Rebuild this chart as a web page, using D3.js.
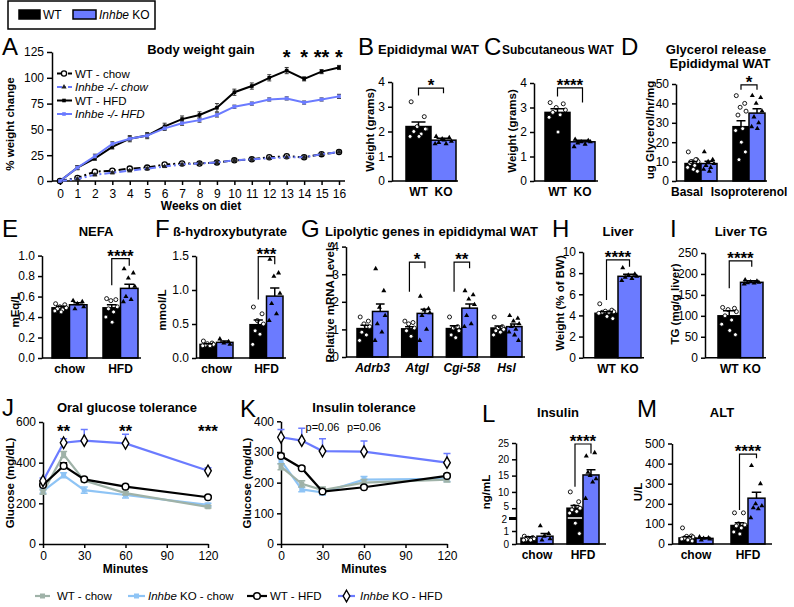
<!DOCTYPE html>
<html><head><meta charset="utf-8">
<script src="https://cdn.jsdelivr.net/npm/d3@7/dist/d3.min.js"></script>
<style>
html,body{margin:0;padding:0;background:#fff;}
svg text{font-family:"Liberation Sans",Arial,Helvetica,sans-serif;}
</style></head>
<body><svg id="fig" width="794" height="607"></svg>
<script>
// ================= DATA =================
// Panel A – body weight gain
const weeks = [0,1,2,3,4,5,6,7,8,9,10,11,12,13,14,15,16];
const aYTicks = [0,25,50,75,100,125];
const wtChowA = [0,3,9,10,12,13,16,17,17,18,20,21,23,24,23,26,28];
const koChowA = [0,2,6,8,10,12,14,16,17,18,20,21,22,23,23,26,28];
const wtHfdA  = [0,13,22,33,41,44,53,60,64,71,86,92,100,107,99,106,110];
const koHfdA  = [0,13,24,36,41,44,51,56,59,64,72,75,79,80,76,79,82];
const wtChowAErr = [0,1,1,1,1,1,1,1,1,1,1,1,1,1,1,1,1];
const koChowAErr = [0,1,1,1,1,1,1,1,1,1,1,1,1,1,1,1,1];
const wtHfdAErr  = [0,2,2,2,3,3,3,3,3,4,3,3,3,3,2,2,2];
const koHfdAErr  = [0,2,2,2,2,2,2,2,2,2,1.5,1.5,1.5,1.5,1.5,1.5,2];
const aStarWeeks = [13,14,15,16];
const aStarLabels = ["*","*","**","*"];

// Panel B – epididymal WAT
const bBarLabels = ["WT","KO"];
const bWt=[2.2], bKo=[1.65], bWtErr=[0.18], bKoErr=[0.08];
const bWtDots=[[3.2,2.6,2.2,2.1,2.0,1.9,1.8,1.8,2.1]];
const bKoDots=[[1.8,1.75,1.7,1.6,1.55,1.5,1.5,1.65]];
const bTicks=[0,1,2,3,4];
// Panel C – subcutaneous WAT
const cWt=[2.8], cKo=[1.6], cWtErr=[0.15], cKoErr=[0.06];
const cWtDots=[[3.2,3.15,3.0,2.9,2.8,2.7,2.6,2.0]];
const cKoDots=[[1.7,1.65,1.6,1.6,1.55,1.5,1.4]];
// Panel D – glycerol release
const dGroups=["Basal","Isoproterenol"];
const dWt=[9,28], dKo=[9,35], dWtErr=[1,3], dKoErr=[1.2,2.3];
const dWtDots=[[15,11,10,10,9,8,7,6,5,10,11],[44,40,38,36,34,27,26,20,15,11]];
const dKoDots=[[15,11,10,9,8,7,6,5],[44,43,40,36,33,30,28,27]];
const dTicks=[0,10,20,30,40,50];
// Panel E – NEFA
const dietGroups=["chow","HFD"];
const eWt=[0.49,0.49], eKo=[0.52,0.68], eWtErr=[0.015,0.03], eKoErr=[0.02,0.04];
const eWtDots=[[0.53,0.52,0.5,0.49,0.48,0.47,0.46,0.45],[0.58,0.57,0.56,0.5,0.48,0.45,0.4,0.35]];
const eKoDots=[[0.56,0.55,0.53,0.5,0.48],[0.87,0.83,0.78,0.7,0.6,0.57,0.55]];
const eTicks=[0,0.2,0.4,0.6,0.8,1.0];
// Panel F – ß-hydroxybutyrate
const fWt=[0.2,0.49], fKo=[0.23,0.91], fWtErr=[0.01,0.07], fKoErr=[0.02,0.12];
const fWtDots=[[0.25,0.22,0.21,0.2,0.19,0.18,0.18],[0.75,0.65,0.55,0.5,0.4,0.35,0.2]];
const fKoDots=[[0.28,0.24,0.22,0.2],[1.45,1.25,1.2,0.95,0.8,0.65,0.55]];
const fTicks=[0,0.5,1.0,1.5];
// Panel G – lipolytic genes
const gGroups=["Adrb3","Atgl","Cgi-58","Hsl"];
const gWt=[1.03,1.02,1.03,1.05], gKo=[1.65,1.58,1.77,1.1];
const gWtErr=[0.12,0.08,0.1,0.07], gKoErr=[0.27,0.15,0.15,0.1];
const gWtDots=[[1.45,1.3,1.2,1.1,0.9,0.8,0.6],[1.3,1.25,1.2,1.05,0.95,0.75],[1.45,1.1,1.05,0.95,0.8,0.7],[1.45,1.1,1.05,1.0,0.95,0.9,0.8]];
const gKoDots=[[3.2,2.4,1.8,1.5,1.2,0.9,0.6],[2.2,1.75,1.7,1.6,1.5,1.0,0.6],[2.4,2.25,2.1,1.9,1.5,1.2,1.1],[1.5,1.4,1.3,1.2,1.1,1.0,0.9,0.8,0.6]];
const gTicks=[0,1,2,3,4];
// Panel H – liver weight
const hWt=[4.2], hKo=[7.7], hWtErr=[0.15], hKoErr=[0.2];
const hWtDots=[[5.1,4.5,4.4,4.35,4.3,4.3,4.2,3.9,3.7]];
const hKoDots=[[8.5,7.9,7.8,7.7,7.6,7.5,7.3]];
const hTicks=[0,2,4,6,8,10];
// Panel I – liver TG
const iWt=[100], iKo=[180], iWtErr=[12], iKoErr=[4];
const iWtDots=[[120,118,115,110,100,90,80,65,55]];
const iKoDots=[[186,183,181,180,179,178,176]];
const iTicks=[0,50,100,150,200,250];
// Panel J – OGTT
const minutes=[0,15,30,60,120];
const minuteTicks=[0,30,60,90,120];
const ogttWtChow=[255,440,312,250,183], ogttWtChowErr=[10,15,8,8,6];
const ogttKoChow=[260,338,265,241,192], ogttKoChowErr=[10,12,15,15,8];
const ogttWtHfd=[290,384,318,282,230], ogttWtHfdErr=[10,15,6,5,6];
const ogttKoHfd=[310,498,508,495,360], ogttKoHfdErr=[15,20,55,45,15];
const jTicks=[0,200,400,600];
const jStarTimes=[15,60,120], jStarLabels=["**","**","***"];
// Panel K – ITT
const ittWtChow=[252,196,176,200,210], ittWtChowErr=[10,10,10,10,8];
const ittKoChow=[272,178,168,210,212], ittKoChowErr=[10,8,8,10,8];
const ittWtHfd=[287,247,171,185,222], ittWtHfdErr=[8,6,5,5,6];
const ittKoHfd=[348,337,303,301,265], ittKoHfdErr=[25,40,40,35,30];
const kTicks=[0,100,200,300,400];
const kPTimes=[30,60], kPLabels=["p=0.06","p=0.06"];
// Panel L – insulin
const lWt=[0.45,5.0], lKo=[0.6,15.2], lWtErr=[0.1,0.8], lKoErr=[0.2,1.6];
const lWtDots=[[0.6,0.5,0.45,0.4,0.35,0.3,0.3],[10,7,5.5,5,4.5,4,3.5,1.6,0.8]];
const lKoDots=[[1.4,0.8,0.6,0.4,0.3],[21,22,15,14,16,13,8]];
const lTicks=[0,1,2,5,10,15,20,25];
// Panel M – ALT
const mWt=[30,92], mKo=[28,228], mWtErr=[6,14], mKoErr=[3,30];
const mWtDots=[[80,40,38,35,30,28,25,20,15],[155,155,100,95,90,80,60,50]];
const mKoDots=[[35,30,28,25,20],[390,300,200,190,180,175,130]];
const mTicks=[0,100,200,300,400,500];

// ================= DRAWING =================
const BLUE="#6b7bff", GREY="#9fb2a8", LBLUE="#8ec4f5";
const svg=d3.select("#fig");
const jit=[-0.28,0.22,-0.05,0.3,-0.18,0.1,-0.32,0.02,0.26,-0.12,0.16];

function T(x,y,parts,o={}){
  const t=svg.append("text").attr("x",x).attr("y",y)
    .attr("font-size",o.size||12).attr("font-weight",o.bold?"bold":"normal")
    .attr("text-anchor",o.anchor||"start").attr("fill",o.fill||"#000");
  if(o.rotate){t.attr("transform",`rotate(-90,${x},${y})`).attr("dy","0.35em");}
  (typeof parts==="string"?[[parts,false]]:parts).forEach(([s,it])=>t.append("tspan").attr("font-style",it?"italic":"normal").text(s));
  return t;
}
function styleAxis(ax,fs){
  ax.attr("font-family","'Liberation Sans',Arial,sans-serif").attr("font-size",fs||12);
  ax.select(".domain").attr("stroke","#000").attr("stroke-width",1.5);
  ax.selectAll(".tick line").attr("stroke","#000").attr("stroke-width",1.5);
  ax.selectAll(".tick text").attr("fill","#000");
}
function letter(x,y,s){T(x,y,s,{size:24});}

// ---- top legend ----
svg.append("rect").attr("x",8).attr("y",1).attr("width",147).attr("height",28).attr("fill","none").attr("stroke","#000").attr("stroke-width",1.5);
svg.append("rect").attr("x",19).attr("y",10).attr("width",21).attr("height",9).attr("fill","#000").attr("stroke","#000").attr("stroke-width",1.5);
T(43,19,"WT",{size:12});
svg.append("rect").attr("x",73).attr("y",10).attr("width",23).attr("height",9).attr("fill",BLUE).attr("stroke","#000").attr("stroke-width",1.5);
T(99,19,[["Inhbe",true],[" KO",false]],{size:12});

// ---- generic marker ----
function marker(g,type,x,y,color){
  if(type==="circle") g.append("circle").attr("cx",x).attr("cy",y).attr("r",2.6).attr("fill","#fff").attr("stroke",color).attr("stroke-width",1.3);
  else if(type==="bigcircle") g.append("circle").attr("cx",x).attr("cy",y).attr("r",3.3).attr("fill","#fff").attr("stroke","#000").attr("stroke-width",1.5);
  else if(type==="diamond") g.append("path").attr("d",d3.symbol().type(d3.symbolDiamond).size(38)()).attr("transform",`translate(${x},${y})`).attr("fill","#fff").attr("stroke","#000").attr("stroke-width",1.4);
  else if(type==="tri") g.append("path").attr("d",d3.symbol().type(d3.symbolTriangle).size(12)()).attr("transform",`translate(${x},${y})`).attr("fill",color==="#000"?"#000":"#222");
  else if(type==="sq") g.append("rect").attr("x",x-1.8).attr("y",y-1.8).attr("width",3.6).attr("height",3.6).attr("fill",color);
  else if(type==="bigsq") g.append("rect").attr("x",x-2.5).attr("y",y-2.5).attr("width",5).attr("height",5).attr("fill",color);
}

// ================= PANEL A =================
(function(){
  const g=svg.append("g");
  const x=d3.scaleLinear().domain([0,16]).range([60,339]);
  const y=d3.scaleLinear().domain([0,125]).range([181,52]);
  const ay=g.append("g").attr("transform","translate(52,0)").call(d3.axisLeft(y).tickValues(aYTicks).tickSize(5).tickSizeOuter(0).tickPadding(3));
  styleAxis(ay);
  const ax=g.append("g").attr("transform","translate(0,181)").call(d3.axisBottom(x).tickValues(weeks).tickSize(4).tickSizeOuter(0).tickPadding(4));
  styleAxis(ax); ax.select(".domain").remove();
  g.append("line").attr("x1",52).attr("x2",345).attr("y1",181).attr("y2",181).attr("stroke","#000").attr("stroke-width",1.5);
  const series=[
    {v:wtChowA,e:wtChowAErr,c:"#000",dash:"7,3,2,3",m:"circle"},
    {v:koChowA,e:koChowAErr,c:BLUE,dash:"7,3,2,3",m:"tri"},
    {v:wtHfdA,e:wtHfdAErr,c:"#000",dash:null,m:"sq"},
    {v:koHfdA,e:koHfdAErr,c:BLUE,dash:null,m:"sq"}
  ];
  series.forEach(s=>{
    s.v.forEach((v,i)=>{
      if(s.e[i]>0){
        const cx=x(weeks[i]);
        g.append("path").attr("d",`M${cx},${y(v-s.e[i])}V${y(v+s.e[i])}M${cx-2},${y(v+s.e[i])}H${cx+2}M${cx-2},${y(v-s.e[i])}H${cx+2}`).attr("stroke","#333").attr("stroke-width",1).attr("fill","none");
      }
    });
    const line=d3.line().x((d,i)=>x(weeks[i])).y(d=>y(d));
    g.append("path").attr("d",line(s.v)).attr("fill","none").attr("stroke",s.c).attr("stroke-width",2).attr("stroke-dasharray",s.dash);
    s.v.forEach((v,i)=>marker(g,s.m,x(weeks[i]),y(v),s.c));
  });
  aStarWeeks.forEach((w,i)=>T(x(w),64,aStarLabels[i],{size:20,bold:true,anchor:"middle"}));
  // legend
  const leg=[["WT - chow",false,"#000","7,3,2,3","circle"],["Inhbe -/- chow",true,BLUE,"7,3,2,3","tri"],["WT - HFD",false,"#000",null,"sq"],["Inhbe -/- HFD",true,BLUE,null,"sq"]];
  const ly=[73.5,87,100.5,114];
  leg.forEach((l,i)=>{
    g.append("line").attr("x1",57).attr("x2",72).attr("y1",ly[i]).attr("y2",ly[i]).attr("stroke",l[2]).attr("stroke-width",2).attr("stroke-dasharray",l[3]?"5,2,2,2":null);
    marker(g,l[4],64,ly[i],l[2]);
    T(75,ly[i]+4,[[l[0],l[1]]],{size:11.5});
  });
  letter(2,55,"A");
  T(201,54,"Body weight gain",{size:13,bold:true,anchor:"middle"});
  T(201,210,"Weeks on diet",{size:12,bold:true,anchor:"middle"});
  T(10,124,"% weight change",{size:11.5,bold:true,anchor:"middle",rotate:true});
})();

// ================= BAR PANELS =================
function barPanel(p){
  const g=svg.append("g");
  const y=p.y;
  const x=d3.scaleBand().domain(d3.range(p.groups.length)).range(p.xr).paddingInner(p.pad||0).paddingOuter(0);
  const sub=d3.scaleBand().domain([0,1]).range([0,x.bandwidth()]);
  const bw=sub.bandwidth();
  const y0=y(0);
  const series=[{m:p.wt,e:p.wtErr,d:p.wtDots,fill:"#000"},{m:p.ko,e:p.koErr,d:p.koDots,fill:BLUE}];
  p.groups.forEach((gl,i)=>{
    series.forEach((s,j)=>{
      const bx=x(i)+sub(j), cx=bx+bw/2, m=s.m[i], e=s.e[i];
      g.append("rect").attr("x",bx).attr("y",y(m)).attr("width",bw).attr("height",y0-y(m)).attr("fill",s.fill).attr("stroke","#000").attr("stroke-width",1.5);
      if(p.breakAt!==undefined && m>p.breakAt && j===0){
        g.append("line").attr("x1",bx+0.8).attr("x2",bx+bw-0.8).attr("y1",y(p.breakAt)).attr("y2",y(p.breakAt)).attr("stroke","#fff").attr("stroke-width",1.5);
      }
      s.d[i].forEach((v,k)=>{
        const dx=cx+jit[k%jit.length]*bw*1.05;
        if(j===0) g.append("circle").attr("cx",dx).attr("cy",y(v)).attr("r",2).attr("fill","#fff").attr("stroke","#000").attr("stroke-width",0.9);
        else g.append("path").attr("d",d3.symbol().type(d3.symbolTriangle).size(11)()).attr("transform",`translate(${dx},${y(v)})`).attr("fill","#000");
      });
      const cw=bw*0.28;
      g.append("path").attr("d",`M${cx},${y(m)}V${y(m+e)}M${cx-cw},${y(m+e)}H${cx+cw}`).attr("stroke","#000").attr("stroke-width",1.5).attr("fill","none");
      if(p.barLabels) T(cx,y0+15,p.barLabels[j],{size:12,bold:true,anchor:"middle"});
    });
    if(!p.barLabels){
      const gx=x(i)+x.bandwidth()/2+(p.labelShift?p.labelShift[i]:0);
      T(gx,y0+15,[[gl,!!p.italic]],{size:12,bold:true,anchor:"middle"});
    }
  });
  g.append("line").attr("x1",p.axisX).attr("x2",p.axisEnd).attr("y1",y0).attr("y2",y0).attr("stroke","#000").attr("stroke-width",1.5);
  const ax=g.append("g").attr("transform",`translate(${p.axisX},0)`).call(d3.axisLeft(y).tickValues(p.ticks).tickFormat(p.fmt).tickSize(4).tickSizeOuter(0).tickPadding(3));
  styleAxis(ax,p.tickSize);
  if(p.breakAt!==undefined){
    ax.selectAll(".tick").filter(d=>d===p.breakAt).select("line").attr("stroke-width",3).attr("x2",-7);
    ax.selectAll(".tick").filter(d=>d===p.breakAt).select("text").attr("dy","0.42em").attr("x",-9);
    ax.selectAll(".tick").filter(d=>d===5).select("text").attr("dy","0.12em");
  }
  (p.brackets||[]).forEach(b=>{
    const x1=x(b.g)+sub(0)+bw/2, x2=x(b.g)+sub(1)+bw/2;
    g.append("path").attr("d",`M${x1},${y(b.l)}V${y(b.top)}H${x2}V${y(b.r)}`).attr("fill","none").attr("stroke","#000").attr("stroke-width",1.2);
    T((x1+x2)/2,y(b.top)+3,b.label,{size:17,bold:true,anchor:"middle"});
  });
}
const fmtD=d3.format("d"), fmt1=d3.format(".1f");

// B
barPanel({axisX:392,axisEnd:458,y:d3.scaleLinear().domain([0,4]).range([181,82]),ticks:bTicks,fmt:fmtD,
  groups:[""],xr:[406,456],barLabels:bBarLabels,wt:bWt,ko:bKo,wtErr:bWtErr,koErr:bKoErr,wtDots:bWtDots,koDots:bKoDots,
  brackets:[{g:0,top:3.75,l:3.45,r:3.55,label:"*"}]});
letter(358,55,"B"); T(378,54,"Epididymal WAT",{size:13,bold:true});
T(370,130,"Weight (grams)",{size:11.5,bold:true,anchor:"middle",rotate:true});
// C
barPanel({axisX:534,axisEnd:598,y:d3.scaleLinear().domain([0,4]).range([181,83]),ticks:bTicks,fmt:fmtD,
  groups:[""],xr:[545,595],barLabels:bBarLabels,wt:cWt,ko:cKo,wtErr:cWtErr,koErr:cKoErr,wtDots:cWtDots,koDots:cKoDots,
  brackets:[{g:0,top:3.8,l:3.45,r:3.2,label:"****"}]});
letter(484,55,"C"); T(502,54,"Subcutaneous WAT",{size:12,bold:true});
T(512,131,"Weight (grams)",{size:11.5,bold:true,anchor:"middle",rotate:true});
// D
barPanel({axisX:676,axisEnd:767,y:d3.scaleLinear().domain([0,50]).range([181,84]),ticks:dTicks,fmt:fmtD,
  groups:dGroups,xr:[685,765],pad:0.333,labelShift:[-14,0],wt:dWt,ko:dKo,wtErr:dWtErr,koErr:dKoErr,wtDots:dWtDots,koDots:dKoDots,
  brackets:[{g:1,top:49.5,l:47,r:47,label:"*"}]});
letter(621,55,"D"); T(716,54,"Glycerol release",{size:13,bold:true,anchor:"middle"});
T(720,68,"Epididymal WAT",{size:13,bold:true,anchor:"middle"});
T(650,130,"ug Glycerol/hr/mg",{size:11.5,bold:true,anchor:"middle",rotate:true});
// E
barPanel({axisX:42,axisEnd:141,y:d3.scaleLinear().domain([0,1]).range([358,255.6]),ticks:eTicks,fmt:fmt1,
  groups:dietGroups,xr:[52,138],pad:0.314,wt:eWt,ko:eKo,wtErr:eWtErr,koErr:eKoErr,wtDots:eWtDots,koDots:eKoDots,
  brackets:[{g:1,top:0.97,l:0.71,r:0.9,label:"****"}]});
letter(2,237,"E"); T(96,236,"NEFA",{size:13,bold:true,anchor:"middle"});
T(15,310,"mEq/L",{size:11.5,bold:true,anchor:"middle",rotate:true});
// F
barPanel({axisX:196,axisEnd:286,y:d3.scaleLinear().domain([0,1.5]).range([358,256]),ticks:fTicks,fmt:fmt1,
  groups:dietGroups,xr:[200,283],pad:0.34,wt:fWt,ko:fKo,wtErr:fWtErr,koErr:fKoErr,wtDots:fWtDots,koDots:fKoDots,
  brackets:[{g:1,top:1.49,l:0.86,r:1.38,label:"***"}]});
letter(155,237,"F"); T(230,236,"ß-hydroxybutyrate",{size:13,bold:true,anchor:"middle"});
T(162,310,"mmol/L",{size:11.5,bold:true,anchor:"middle",rotate:true});
// G
barPanel({axisX:346,axisEnd:525,y:d3.scaleLinear().domain([0,4]).range([357,246.6]),ticks:gTicks,fmt:fmtD,
  groups:gGroups,italic:true,xr:[357,522],pad:0.306,wt:gWt,ko:gKo,wtErr:gWtErr,koErr:gKoErr,wtDots:gWtDots,koDots:gKoDots,
  brackets:[{g:1,top:3.44,l:2.36,r:3.22,label:"*"},{g:2,top:3.44,l:2.36,r:3.22,label:"**"}]});
letter(301,237,"G"); T(325,236,"Lipolytic genes in epididymal WAT",{size:13,bold:true});
T(330,302,"Relative mRNA Levels",{size:11.5,bold:true,anchor:"middle",rotate:true});
// H
barPanel({axisX:583,axisEnd:644,y:d3.scaleLinear().domain([0,10]).range([357.7,252]),ticks:hTicks,fmt:fmtD,
  groups:[""],xr:[595,641],barLabels:bBarLabels,wt:hWt,ko:hKo,wtErr:hWtErr,koErr:hKoErr,wtDots:hWtDots,koDots:hKoDots,
  brackets:[{g:0,top:9.25,l:5.45,r:8.6,label:"****"}]});
letter(552,237,"H"); T(618,236,"Liver",{size:13,bold:true,anchor:"middle"});
T(560,303,"Weight (% of BW)",{size:11.5,bold:true,anchor:"middle",rotate:true});
// I
barPanel({axisX:705,axisEnd:766,y:d3.scaleLinear().domain([0,250]).range([357.7,253]),ticks:iTicks,fmt:fmtD,
  groups:[""],xr:[718,763],barLabels:bBarLabels,wt:iWt,ko:iKo,wtErr:iWtErr,koErr:iKoErr,wtDots:iWtDots,koDots:iKoDots,
  brackets:[{g:0,top:231,l:166,r:217,label:"****"}]});
letter(670,237,"I"); T(741,236,"Liver TG",{size:13,bold:true,anchor:"middle"});
T(675,304,"TG (mg/g liver)",{size:11.5,bold:true,anchor:"middle",rotate:true});
// L
barPanel({axisX:516,axisEnd:606,y:d3.scaleLinear().domain([0,2,25]).range([544,518,443]),ticks:lTicks,fmt:fmtD,breakAt:2,tickSize:10,
  groups:dietGroups,xr:[521,599],pad:0.304,wt:lWt,ko:lKo,wtErr:lWtErr,koErr:lKoErr,wtDots:lWtDots,koDots:lKoDots,
  brackets:[{g:1,top:24.7,l:11.6,r:21.8,label:"****"}]});
letter(482,422,"L"); T(558,417,"Insulin",{size:13,bold:true,anchor:"middle"});
T(486,492,"ng/mL",{size:11.5,bold:true,anchor:"middle",rotate:true});
// M
barPanel({axisX:672,axisEnd:772,y:d3.scaleLinear().domain([0,500]).range([544,443.5]),ticks:mTicks,fmt:fmtD,
  groups:dietGroups,xr:[679,765],pad:0.346,wt:mWt,ko:mKo,wtErr:mWtErr,koErr:mKoErr,wtDots:mWtDots,koDots:mKoDots,
  brackets:[{g:1,top:447,l:169,r:426,label:"****"}]});
letter(637,417,"M"); T(722,417,"ALT",{size:13,bold:true,anchor:"middle"});
T(638,492,"U/L",{size:11.5,bold:true,anchor:"middle",rotate:true});

// ================= J / K =================
function tolPanel(p){
  const g=svg.append("g");
  const x=d3.scaleLinear().domain([0,120]).range([p.x0,p.x1]);
  const y=d3.scaleLinear().domain([0,p.ymax]).range([544,p.ytop]);
  const ay=g.append("g").attr("transform",`translate(${p.x0},0)`).call(d3.axisLeft(y).tickValues(p.ticks).tickSize(4).tickSizeOuter(0).tickPadding(3));
  styleAxis(ay);
  const ax=g.append("g").attr("transform","translate(0,544)").call(d3.axisBottom(x).tickValues(minuteTicks).tickSize(4).tickSizeOuter(0).tickPadding(3));
  styleAxis(ax);
  p.series.forEach(s=>{
    s.v.forEach((v,i)=>{
      const cx=x(minutes[i]), e=s.e[i];
      const lo=s.up?v:v-e;
      g.append("path").attr("d",`M${cx},${y(lo)}V${y(v+e)}M${cx-3.5},${y(v+e)}H${cx+3.5}`+(s.up?"":`M${cx-3.5},${y(v-e)}H${cx+3.5}`)).attr("stroke",s.c).attr("stroke-width",1.5).attr("fill","none");
    });
    const line=d3.line().x((d,i)=>x(minutes[i])).y(d=>y(d));
    g.append("path").attr("d",line(s.v)).attr("fill","none").attr("stroke",s.c).attr("stroke-width",2.2);
    s.v.forEach((v,i)=>marker(g,s.m,x(minutes[i]),y(v),s.c));
  });
  (p.notes||[]).forEach(n=>T(x(n.t),n.py,n.label,{size:n.size,bold:n.bold,anchor:"middle"}));
  T((p.x0+p.x1)/2,573,"Minutes",{size:12,bold:true,anchor:"middle"});
}
tolPanel({x0:43,x1:208,ymax:600,ytop:422,ticks:jTicks,series:[
  {v:ogttKoChow,e:ogttKoChowErr,c:LBLUE,m:"bigsq"},
  {v:ogttWtChow,e:ogttWtChowErr,c:GREY,m:"bigsq"},
  {v:ogttWtHfd,e:ogttWtHfdErr,c:"#000",m:"bigcircle",up:true},
  {v:ogttKoHfd,e:ogttKoHfdErr,c:BLUE,m:"diamond",up:true}],
  notes:jStarTimes.map((t,i)=>({t:t,py:437,label:jStarLabels[i],size:17,bold:true}))});
letter(2,416,"J"); T(127,412,"Oral glucose tolerance",{size:13,bold:true,anchor:"middle"});
T(10,483,"Glucose (mg/dL)",{size:11.5,bold:true,anchor:"middle",rotate:true});
tolPanel({x0:281,x1:447,ymax:400,ytop:421.3,ticks:kTicks,series:[
  {v:ittKoChow,e:ittKoChowErr,c:LBLUE,m:"bigsq"},
  {v:ittWtChow,e:ittWtChowErr,c:GREY,m:"bigsq"},
  {v:ittWtHfd,e:ittWtHfdErr,c:"#000",m:"bigcircle",up:true},
  {v:ittKoHfd,e:ittKoHfdErr,c:BLUE,m:"diamond",up:true}],
  notes:kPTimes.map((t,i)=>({t:t,py:431,label:kPLabels[i],size:11,bold:false}))});
letter(240,417,"K"); T(364,412,"Insulin tolerance",{size:13,bold:true,anchor:"middle"});
T(247,483,"Glucose (mg/dL)",{size:11.5,bold:true,anchor:"middle",rotate:true});

// ---- bottom legend ----
const bl=[
  {x1:35,x2:50,c:GREY,m:"bigsq",tx:57,t:[["WT - chow",false]]},
  {x1:128,x2:145,c:LBLUE,m:"bigsq",tx:148,t:[["Inhbe",true],[" KO - chow",false]]},
  {x1:247,x2:267,c:"#000",m:"bigcircle",tx:270,t:[["WT - HFD",false]]},
  {x1:338,x2:355,c:BLUE,m:"diamond",tx:360,t:[["Inhbe",true],[" KO - HFD",false]]}
];
bl.forEach(l=>{
  svg.append("line").attr("x1",l.x1).attr("x2",l.x2).attr("y1",596).attr("y2",596).attr("stroke",l.c).attr("stroke-width",2.2);
  marker(svg,l.m,(l.x1+l.x2)/2,596,l.c);
  T(l.tx,600,l.t,{size:11.5});
});
</script>
</body></html>
